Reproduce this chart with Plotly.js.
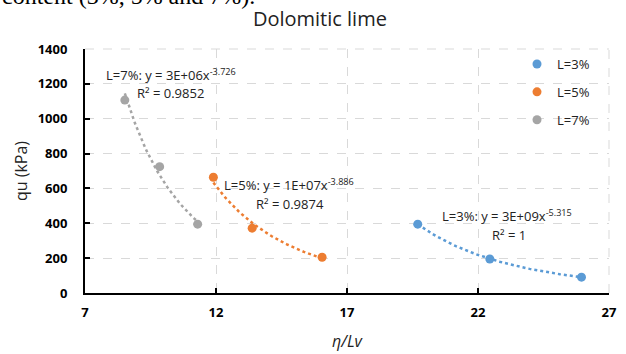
<!DOCTYPE html>
<html>
<head>
<meta charset="utf-8">
<script src="https://cdn.plot.ly/plotly-3.0.1.min.js"></script>
<style>html,body{margin:0;padding:0;background:#fff;}#chart{width:626px;height:354px;}</style>
</head>
<body>
<div id="chart"></div>
<script>
// Data
const seriesNames = ["L=3%", "L=5%", "L=7%"];
const x3 = [19.7, 22.45, 25.95];
const y3 = [395, 195, 91];
const x5 = [11.9, 13.38, 16.05];
const y5 = [664, 372, 205];
const x7 = [8.52, 9.85, 11.3];
const y7 = [1107, 725, 395];
const eqLabels = [
  "L=3%: y = 3E+09x<sup>-5.315</sup>",
  "L=5%: y = 1E+07x<sup>-3.886</sup>",
  "L=7%: y = 3E+06x<sup>-3.726</sup>"
];
const r2Labels = ["R² = 1", "R² = 0.9874", "R² = 0.9852"];
const xTicks = [7, 12, 17, 22, 27];
const yTicks = [0, 200, 400, 600, 800, 1000, 1200, 1400];

const colors = ["#5b9bd5", "#ed7d31", "#a5a5a5"];
const xs = [x3, x5, x7];
const ys = [y3, y5, y7];

// power-law trendline by least squares in log-log space (as Excel does)
function powerFit(x, y) {
  const n = x.length;
  const lx = x.map(Math.log), ly = y.map(Math.log);
  const mx = lx.reduce((a, b) => a + b, 0) / n;
  const my = ly.reduce((a, b) => a + b, 0) / n;
  let sxy = 0, sxx = 0;
  for (let i = 0; i < n; i++) { sxy += (lx[i] - mx) * (ly[i] - my); sxx += (lx[i] - mx) ** 2; }
  const b = sxy / sxx;
  const a = Math.exp(my - b * mx);
  return {a, b};
}

const traces = [];
for (let s = 0; s < 3; s++) {
  const f = powerFit(xs[s], ys[s]);
  const xmin = Math.min(...xs[s]), xmax = Math.max(...xs[s]);
  const tx = [], ty = [];
  const N = 60;
  for (let i = 0; i <= N; i++) {
    const xv = xmin + (xmax - xmin) * i / N;
    tx.push(xv); ty.push(f.a * Math.pow(xv, f.b));
  }
  traces.push({
    x: tx, y: ty, mode: "lines", type: "scatter",
    line: {color: colors[s], width: 2.5, dash: "dot"},
    showlegend: false, hoverinfo: "skip"
  });
}
for (let s = 0; s < 3; s++) {
  traces.push({
    x: xs[s], y: ys[s], mode: "markers", type: "scatter", name: seriesNames[s],
    legendgroup: "g" + s,
    marker: {color: colors[s], size: 9}
  });
}

const eqPos = [
  {x: 440, y: 215, rx: 490, ry: 235},
  {x: 222, y: 184, rx: 254, ry: 204},
  {x: 104, y: 74, rx: 135, ry: 93}
];
// convert pixel positions (of the text layout) into paper coords
const W = 626, H = 354, L = 85, R = 17, T = 49, B = 61;
const pw = W - L - R, ph = H - T - B;
const px = v => (v - L) / pw;
const py = v => 1 - (v - T) / ph;

const annotations = [];
for (let s = 0; s < 3; s++) {
  annotations.push({
    text: eqLabels[s], xref: "paper", yref: "paper",
    x: px(eqPos[s].x), y: py(eqPos[s].y), xanchor: "left", yanchor: "middle",
    showarrow: false, font: {family: "Open Sans", size: 13, color: "#222"}
  });
  annotations.push({
    text: r2Labels[s], xref: "paper", yref: "paper",
    x: px(eqPos[s].rx), y: py(eqPos[s].ry), xanchor: "left", yanchor: "middle",
    showarrow: false, font: {family: "Open Sans", size: 13, color: "#222"}
  });
}
// clipped caption text from the source page
annotations.push({
  text: "content (3%, 5% and 7%).", xref: "paper", yref: "paper",
  x: px(0), y: py(-4.5), xanchor: "left", yanchor: "middle", showarrow: false,
  font: {family: "Liberation Serif", size: 24, color: "#000"}
});

const layout = {
  width: W, height: H,
  margin: {l: L, r: R, t: T, b: B, pad: 0},
  paper_bgcolor: "#fff", plot_bgcolor: "#fff",
  title: {text: "Dolomitic lime", x: 0.511, xanchor: "center", y: 0.945, yanchor: "middle",
          font: {family: "Open Sans", size: 20, color: "#222"}},
  xaxis: {
    range: [7, 27], tickvals: xTicks, ticktext: xTicks.map(String),
    showgrid: true, gridcolor: "#d9d9d9", griddash: "dash", gridwidth: 1,
    showline: true, linecolor: "#000", linewidth: 2,
    ticks: "inside", ticklen: 5, tickwidth: 2, tickcolor: "#000",
    tickfont: {family: "Open Sans", size: 13, color: "#000", weight: "bold"},
    ticklabelstandoff: 6,
    zeroline: false,
    title: {text: "<i>η/Lv</i>", font: {family: "Open Sans", size: 16, color: "#222"}, standoff: 16}
  },
  yaxis: {
    range: [0, 1400], tickvals: yTicks, ticktext: yTicks.map(String),
    showgrid: true, gridcolor: "#d9d9d9", griddash: "dash", gridwidth: 1,
    showline: true, linecolor: "#000", linewidth: 2,
    ticks: "inside", ticklen: 5, tickwidth: 2, tickcolor: "#000",
    tickfont: {family: "Open Sans", size: 13, color: "#000", weight: "bold"},
    ticklabelstandoff: 13,
    zeroline: false,
    title: {text: "qu (kPa)", font: {family: "Open Sans", size: 16, color: "#222"}, standoff: 6}
  },
  legend: {
    x: px(517), y: py(49), xanchor: "left", yanchor: "top",
    bgcolor: "rgba(0,0,0,0)", borderwidth: 0,
    font: {family: "Open Sans", size: 13, color: "#222"},
    tracegroupgap: 8, itemwidth: 30
  },
  shapes: [
    {type: "line", xref: "paper", yref: "paper", x0: 1, x1: 1, y0: 0, y1: 1,
     line: {color: "#d9d9d9", width: 1, dash: "dash"}},
    {type: "line", xref: "paper", yref: "paper", x0: 0, x1: 1, y0: 1, y1: 1,
     line: {color: "#d9d9d9", width: 1, dash: "dash"}}
  ],
  annotations: annotations
};

Plotly.newPlot("chart", traces, layout, {staticPlot: true, displayModeBar: false});
</script>
</body>
</html>
